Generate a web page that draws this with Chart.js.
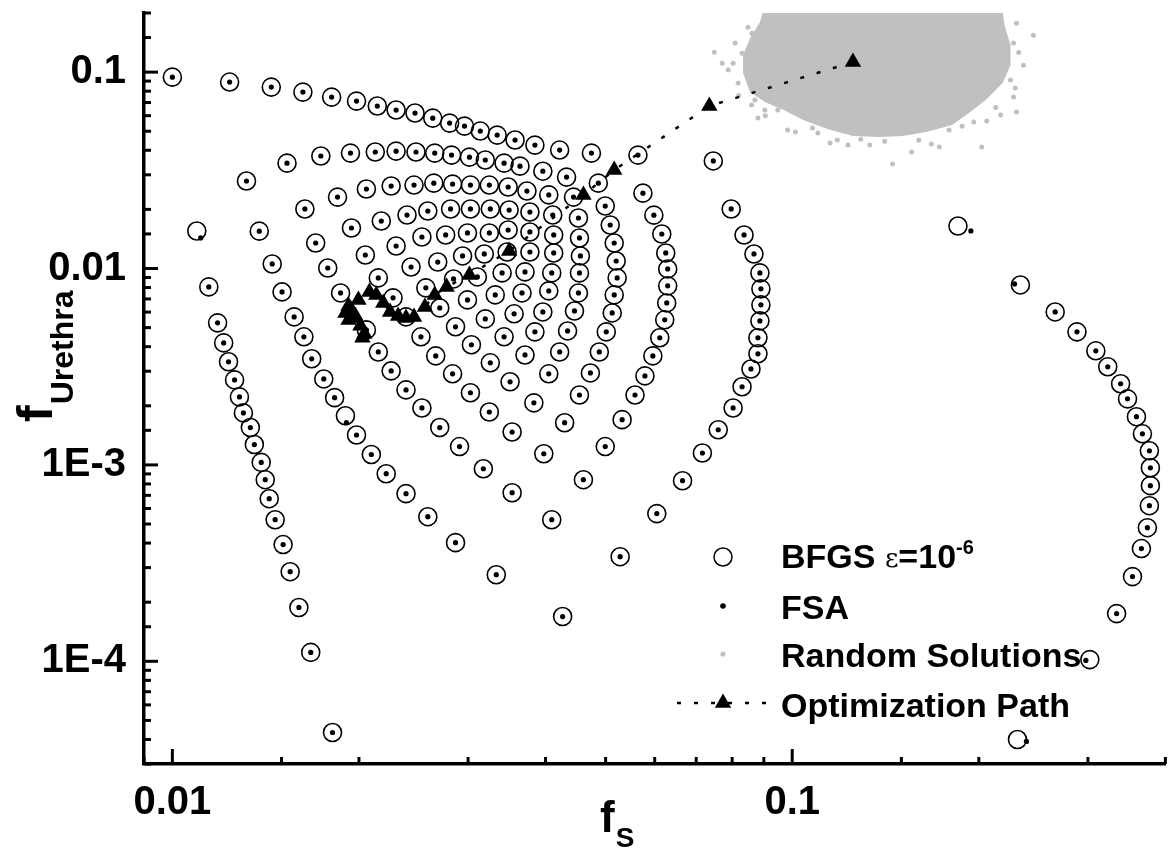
<!DOCTYPE html>
<html>
<head>
<meta charset="utf-8">
<script src="https://cdn.jsdelivr.net/npm/chart.js@4.4.1/dist/chart.umd.min.js"></script>
<style>
  html, body { margin: 0; padding: 0; background: #fff; }
  #wrap { width: 1176px; height: 852px; }
</style>
</head>
<body>
<div id="wrap"><canvas id="chart" width="1176" height="852"></canvas></div>
<script>
// points where the BFGS circle and the FSA dot coincide
const sharedFs = [
  0.0100, 0.01237, 0.01444, 0.01624, 0.01807, 0.01982, 0.02141, 0.02296, 0.02463, 0.02631, 0.02801, 0.02960,
  0.03139, 0.03342, 0.03572, 0.03845, 0.04215, 0.04743, 0.05638,
  0.07459, 0.07971, 0.08362, 0.08675, 0.08869, 0.08902, 0.08902, 0.08869, 0.08804, 0.08804, 0.08580, 0.08300,
  0.08029, 0.07597, 0.07163, 0.06654, 0.06047, 0.05277,
  0.01317, 0.01531, 0.01736, 0.01938, 0.02125, 0.02296, 0.02472, 0.02650, 0.02821, 0.03015, 0.03198, 0.03429,
  0.03638, 0.03960, 0.04325, 0.04866,
  0.04993, 0.05086, 0.05162, 0.05200, 0.05219, 0.05162, 0.05124, 0.05012, 0.04884, 0.04725, 0.04537, 0.04294, 0.03974,
  0.05743, 0.05981, 0.06160, 0.06251, 0.06297, 0.06297, 0.06274, 0.06228, 0.06114, 0.05959, 0.05786, 0.05577,
  0.05316, 0.04993, 0.04604, 0.04093, 0.03331, 0.04262,
  0.01636, 0.01847, 0.02056, 0.02254, 0.02454, 0.02641, 0.02832, 0.03026, 0.03246, 0.03481, 0.03733, 0.04048, 0.04438,
  0.01381, 0.01703, 0.01945, 0.02173, 0.02391, 0.02583, 0.02811, 0.03026, 0.03258, 0.03494, 0.03774, 0.04108, 0.04520,
  0.01449, 0.01781, 0.02048, 0.02296, 0.02527, 0.02760, 0.02993, 0.03246, 0.03481, 0.03774, 0.04123, 0.04537,
  0.01145, 0.01503, 0.01868, 0.02149, 0.02427, 0.02680, 0.02939, 0.03186, 0.03468, 0.03774, 0.04123, 0.04553,
  0.02270, 0.02564, 0.02842, 0.03105, 0.03404, 0.03706, 0.04093, 0.04537,
  0.01183, 0.01572, 0.02056, 0.02382, 0.02700, 0.02993, 0.03318, 0.03665, 0.04048, 0.04520,
  0.01210, 0.01630, 0.02863, 0.03198, 0.03559, 0.03960, 0.04454,
  0.01232, 0.01678, 0.02149, 0.02518, 0.03037, 0.03429, 0.03845, 0.04341,
  0.01260, 0.01755, 0.02254, 0.02660, 0.03258, 0.03706, 0.04215,
  0.01283, 0.01827, 0.02382, 0.02832, 0.03506, 0.04048,
  0.01302, 0.02527, 0.03026, 0.03830,
  0.01336, 0.01982, 0.02700, 0.03246, 0.03533,
  0.01356, 0.02094, 0.02906,
  0.01391, 0.02213, 0.03175,
  0.01412, 0.02382, 0.03533, 0.01433, 0.01465, 0.02583, 0.01509, 0.02863, 0.01549, 0.01600, 0.01672, 0.01813,
  0.2656, 0.2880, 0.3089, 0.3229, 0.3387, 0.3475, 0.3592, 0.3673, 0.3769, 0.3783, 0.3783, 0.3769, 0.3741, 0.3659,
  0.3540, 0.3337
];
const sharedFu = [
  0.0943, 0.0890, 0.0839, 0.0791, 0.0746, 0.0712, 0.0672, 0.0641, 0.0619, 0.0583, 0.0550, 0.0531,
  0.0501, 0.0478, 0.0451, 0.0425, 0.0401, 0.0387, 0.0378,
  0.0353, 0.0201, 0.01482, 0.01186, 0.00950, 0.00788, 0.00653, 0.00541, 0.00444, 0.00368, 0.00308, 0.00250,
  0.00195, 0.00151, 0.00115, 0.000831, 0.000565, 0.000341,
  0.0279, 0.0344, 0.0374, 0.0387, 0.0392, 0.0396, 0.0392, 0.0387, 0.0378, 0.0369, 0.0357, 0.0344,
  0.0332, 0.0313, 0.0292, 0.0272,
  0.0208, 0.01666, 0.01349, 0.01092, 0.00896, 0.00734, 0.00594, 0.00476, 0.00376, 0.00294, 0.00227, 0.00164, 0.00114,
  0.0242, 0.0187, 0.01499, 0.01200, 0.00995, 0.00816, 0.00668, 0.00548, 0.00444, 0.00359, 0.00284, 0.00227,
  0.00170, 0.00124, 0.000841, 0.000526, 0.000276, 0.000169,
  0.0201, 0.0231, 0.0254, 0.0263, 0.0266, 0.0272, 0.0269, 0.0266, 0.0266, 0.0260, 0.0248, 0.0237, 0.0231,
  0.0155, 0.01349, 0.01608, 0.01745, 0.01872, 0.01962, 0.0201, 0.0201, 0.0201, 0.01985, 0.01939, 0.01872, 0.01808,
  0.01055, 0.01006, 0.01172, 0.01302, 0.01447, 0.01482, 0.01517, 0.01517, 0.01571, 0.01535, 0.01482, 0.01431,
  0.00806, 0.00760, 0.00751, 0.00896, 0.01018, 0.01079, 0.01159, 0.01186, 0.01214, 0.01214, 0.01200, 0.01159,
  0.00709, 0.00797, 0.00885, 0.00906, 0.00950, 0.00961, 0.00950, 0.00950,
  0.00529, 0.00567, 0.00487, 0.00567, 0.00630, 0.00692, 0.00734, 0.00751, 0.00769, 0.00751,
  0.00418, 0.00449, 0.00505, 0.00554, 0.00588, 0.00601, 0.00608,
  0.00335, 0.00347, 0.00376, 0.00449, 0.00409, 0.00449, 0.00476, 0.00481,
  0.00271, 0.00274, 0.00301, 0.00359, 0.00331, 0.00363, 0.00376,
  0.00222, 0.00220, 0.00241, 0.00291, 0.00265, 0.00291,
  0.00184, 0.00195, 0.00233, 0.00207,
  0.00155, 0.00142, 0.00155, 0.00186, 0.00147,
  0.00127, 0.00113, 0.00124,
  0.00103, 0.000902, 0.000956,
  0.000841, 0.000714, 0.000722, 0.000673, 0.000526, 0.000545, 0.000393, 0.000402, 0.000286, 0.000188, 0.000111, 0.0000434,
  0.00601, 0.00476, 0.00381, 0.00316, 0.00259, 0.00217, 0.00176, 0.00144, 0.00118, 0.000967, 0.000784, 0.000620, 0.000479, 0.000375,
  0.000270, 0.000175
];
// points where the two solvers disagree slightly
const bfgsOnlyFs = [0.2334, 0.3021, 0.2309, 0.1851, 0.01095, 0.01902];
const bfgsOnlyFu = [0.00825, 0.000102, 0.0000400, 0.01646, 0.01553, 0.00178];
const fsaOnlyFs = [0.2284, 0.2977, 0.2387, 0.1942, 0.01111, 0.01909];
const fsaOnlyFu = [0.00835, 0.000101, 0.0000391, 0.01553, 0.01431, 0.00164];

// dense core of the random solutions cloud (outline) and its loose edge points
const randomCoreFs = [0.0924, 0.2177, 0.2201, 0.2250, 0.2250, 0.2185, 0.2052, 0.1928, 0.1811, 0.1646, 0.1507, 0.1384,
  0.1253, 0.1139, 0.1042, 0.09688, 0.09033, 0.08548, 0.08331, 0.08331, 0.08548, 0.08869, 0.09033, 0.0924];
const randomCoreFu = [0.219, 0.219, 0.1734, 0.1372, 0.1085, 0.08792, 0.07203, 0.06186, 0.05374, 0.04951, 0.04724, 0.04669,
  0.04724, 0.05128, 0.05698, 0.06407, 0.07037, 0.07912, 0.09887, 0.1220, 0.1489, 0.1797, 0.219, 0.219];
const randomEdgeFs = [0.2301, 0.2449, 0.2275, 0.2361, 0.2250, 0.2275, 0.2301, 0.2169, 0.2060, 0.1963, 0.2022, 0.1791,
  0.1727, 0.1677, 0.1558, 0.1452, 0.1334, 0.1230, 0.1151, 0.1182, 0.1078, 0.1012, 0.09831, 0.09476, 0.08485, 0.07487,
  0.07883, 0.07710, 0.08029, 0.08300, 0.08804, 0.09033, 0.08707, 0.08179, 0.08089, 0.08611,
  0.2320, 0.2290, 0.2130, 0.1880, 0.1600, 0.1410, 0.1290, 0.1100, 0.0905, 0.0860, 0.0820];
const randomEdgeFu = [0.1776, 0.1542, 0.1405, 0.1085, 0.09106, 0.07462, 0.06259, 0.06043, 0.05632, 0.05567, 0.04153, 0.05068,
  0.04153, 0.04302, 0.03916, 0.03403, 0.04252, 0.04252, 0.04352, 0.04508, 0.05189, 0.04951, 0.05068, 0.06407, 0.1694, 0.1264,
  0.1024, 0.1111, 0.1111, 0.1249, 0.05834, 0.06407, 0.07203, 0.08792, 0.1405, 0.1579,
  0.1260, 0.0830, 0.0660, 0.0530, 0.0450, 0.0445, 0.0455, 0.0490, 0.0600, 0.0680, 0.0760];

// optimization path, in order of the steps
const pathFs = [0.1253, 0.07350, 0.05162, 0.04604, 0.03494, 0.03015, 0.02770, 0.02650, 0.02555, 0.02454, 0.02382,
  0.02313, 0.02245, 0.02189, 0.02133, 0.02079, 0.01996, 0.01924, 0.01902, 0.01945, 0.01924, 0.01974, 0.01967,
  0.02011, 0.02041, 0.02026];
const pathFu = [0.1125, 0.0672, 0.03171, 0.02367, 0.01229, 0.009278, 0.008061, 0.00734, 0.006377, 0.005671, 0.005606,
  0.005739, 0.006014, 0.006683, 0.00734, 0.00760, 0.00692, 0.006453, 0.005944, 0.006156, 0.005476, 0.005739, 0.005606,
  0.005105, 0.004648, 0.004435];

const xMajorTicks = [0.01, 0.1];
const xMajorLabels = ['0.01', '0.1'];
const yMajorTicks = [0.1, 0.01, 0.001, 0.0001];
const yMajorLabels = ['0.1', '0.01', '1E-3', '1E-4'];

const toPts = (xs, ys) => xs.map((v, i) => ({ x: v, y: ys[i] }));
const isMajor = v => Math.abs(Math.log10(v) - Math.round(Math.log10(v))) < 1e-6;
function labelFor(v, ticks, labels) {
  const i = ticks.findIndex(t => Math.abs(t - v) / t < 1e-6);
  return i >= 0 ? labels[i] : '';
}

const FONT = '"Liberation Sans", Arial, sans-serif';
const GRAY = '#c0c0c0';

// inward tick marks, as in the original plot
const axisTicks = {
  id: 'axisTicks',
  afterDraw(chart) {
    const { ctx, chartArea: a, scales: { x, y } } = chart;
    ctx.save();
    ctx.strokeStyle = '#000';
    ctx.lineWidth = 3;
    x.ticks.forEach(t => {
      const px = x.getPixelForValue(t.value);
      const len = isMajor(t.value) ? 15 : 7;
      ctx.beginPath(); ctx.moveTo(px, a.bottom); ctx.lineTo(px, a.bottom - len); ctx.stroke();
    });
    y.ticks.forEach(t => {
      const py = y.getPixelForValue(t.value);
      const len = isMajor(t.value) ? 14 : 7;
      ctx.beginPath(); ctx.moveTo(a.left, py); ctx.lineTo(a.left + len, py); ctx.stroke();
    });
    ctx.restore();
  }
};

// axis titles with subscripts
const axisTitles = {
  id: 'axisTitles',
  afterDraw(chart) {
    const ctx = chart.ctx;
    ctx.save();
    ctx.fillStyle = '#000';
    ctx.textBaseline = 'alphabetic';
    ctx.font = 'bold 44px ' + FONT;
    ctx.fillText('f', 600, 832);
    const xw = ctx.measureText('f').width;
    ctx.font = 'bold 28px ' + FONT;
    ctx.fillText('S', 600 + xw + 1, 847);

    ctx.translate(52, 422);
    ctx.rotate(-Math.PI / 2);
    ctx.font = 'bold 50px ' + FONT;
    ctx.fillText('f', 0, 0);
    const fw = ctx.measureText('f').width;
    ctx.font = 'bold 32px ' + FONT;
    ctx.fillText('Urethra', fw + 1, 21);
    ctx.restore();
  }
};

// legend in the lower right of the plot
const legendBox = {
  id: 'legendBox',
  afterDraw(chart) {
    const ctx = chart.ctx;
    const sx = 723, tx = 781;
    ctx.save();
    ctx.fillStyle = '#000';
    ctx.strokeStyle = '#000';
    // BFGS circle
    ctx.lineWidth = 1.5;
    ctx.beginPath(); ctx.arc(sx, 557, 9, 0, Math.PI * 2); ctx.stroke();
    // FSA dot
    ctx.beginPath(); ctx.arc(sx, 606, 2.8, 0, Math.PI * 2); ctx.fill();
    // random dot
    ctx.fillStyle = GRAY;
    ctx.beginPath(); ctx.arc(sx, 654, 2.6, 0, Math.PI * 2); ctx.fill();
    // path sample
    ctx.fillStyle = '#000';
    ctx.lineWidth = 2.5;
    ctx.setLineDash([4, 13]);
    ctx.beginPath(); ctx.moveTo(677, 703); ctx.lineTo(772, 703); ctx.stroke();
    ctx.setLineDash([]);
    const r = 9.5;
    ctx.beginPath();
    ctx.moveTo(sx, 703 - r);
    ctx.lineTo(sx + r * 0.866, 703 + r / 2);
    ctx.lineTo(sx - r * 0.866, 703 + r / 2);
    ctx.closePath(); ctx.fill();

    ctx.textBaseline = 'alphabetic';
    ctx.font = 'bold 34px ' + FONT;
    ctx.fillText('BFGS ', tx, 568);
    let w = ctx.measureText('BFGS ').width;
    ctx.font = '26px "DejaVu Serif", serif';
    ctx.fillText('\u03b5', tx + w, 567);
    w += ctx.measureText('\u03b5').width;
    ctx.font = 'bold 34px ' + FONT;
    ctx.fillText('=10', tx + w, 568);
    w += ctx.measureText('=10').width;
    ctx.font = 'bold 20px ' + FONT;
    ctx.fillText('-6', tx + w, 554);
    ctx.font = 'bold 34px ' + FONT;
    ctx.fillText('FSA', tx, 619);
    ctx.fillText('Random Solutions', tx, 667);
    ctx.fillText('Optimization Path', tx, 717);
    ctx.restore();
  }
};

const chart = new Chart(document.getElementById('chart').getContext('2d'), {
  type: 'scatter',
  data: {
    datasets: [
      {
        label: 'Optimization Path',
        type: 'line',
        data: toPts(pathFs, pathFu),
        borderColor: '#000',
        borderWidth: 2.5,
        borderDash: [4, 13],
        backgroundColor: '#000',
        pointStyle: 'triangle',
        pointRadius: 9.5,
        pointBorderWidth: 0,
        tension: 0,
        fill: false,
        order: 0
      },
      {
        label: 'FSA',
        data: toPts(sharedFs.concat(fsaOnlyFs), sharedFu.concat(fsaOnlyFu)),
        backgroundColor: '#000',
        borderColor: '#000',
        pointRadius: 2.6,
        pointBorderWidth: 0,
        order: 1
      },
      {
        label: 'BFGS',
        data: toPts(sharedFs.concat(bfgsOnlyFs), sharedFu.concat(bfgsOnlyFu)),
        backgroundColor: 'rgba(0,0,0,0)',
        borderColor: '#000',
        pointRadius: 9,
        pointBorderWidth: 1.6,
        order: 2
      },
      {
        label: 'Random Solutions',
        data: toPts(randomEdgeFs, randomEdgeFu),
        backgroundColor: GRAY,
        borderColor: GRAY,
        pointRadius: 2.5,
        pointBorderWidth: 0,
        order: 3
      },
      {
        label: 'Random Solutions core',
        type: 'line',
        data: toPts(randomCoreFs, randomCoreFu),
        borderWidth: 0,
        borderColor: GRAY,
        backgroundColor: GRAY,
        pointRadius: 0,
        tension: 0,
        fill: 'shape',
        order: 4
      }
    ]
  },
  options: {
    responsive: false,
    animation: false,
    devicePixelRatio: 1,
    layout: { padding: { top: 13, right: 2, left: 0, bottom: 0 } },
    plugins: { legend: { display: false }, tooltip: { enabled: false } },
    scales: {
      x: {
        type: 'logarithmic',
        min: 0.009,
        max: 0.4,
        grid: { display: false, drawTicks: false },
        border: { display: true, color: '#000', width: 3.5 },
        afterFit(scale) { scale.height = 88; scale.paddingLeft = 0; scale.paddingRight = 0; },
        ticks: {
          autoSkip: false,
          maxRotation: 0,
          padding: 15,
          color: '#000',
          font: { family: FONT, size: 40, weight: 'bold' },
          callback: v => labelFor(v, xMajorTicks, xMajorLabels)
        }
      },
      y: {
        type: 'logarithmic',
        min: 0.00003,
        max: 0.2,
        grid: { display: false, drawTicks: false },
        border: { display: true, color: '#000', width: 3.5 },
        afterFit(scale) { scale.width = 144; scale.paddingTop = 0; scale.paddingBottom = 0; },
        ticks: {
          autoSkip: false,
          padding: 18,
          color: '#000',
          font: { family: FONT, size: 40, weight: 'bold' },
          callback: v => labelFor(v, yMajorTicks, yMajorLabels)
        }
      }
    }
  },
  plugins: [axisTicks, axisTitles, legendBox]
});
</script>
</body>
</html>
